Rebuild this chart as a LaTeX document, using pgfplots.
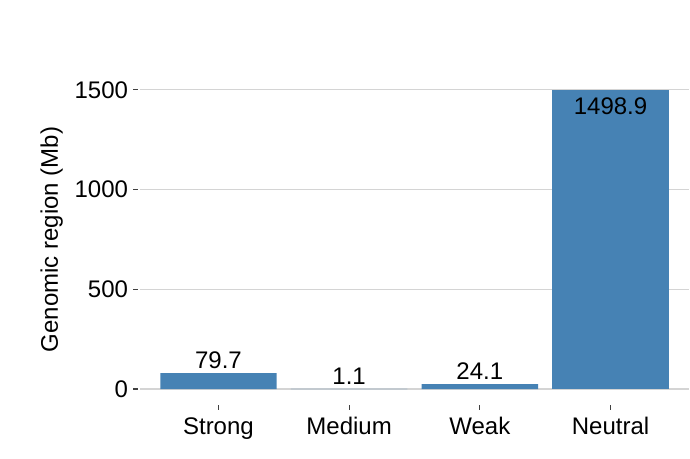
\documentclass[border=0pt]{standalone}
\usepackage{pgfplots}
\pgfplotsset{compat=1.18}
\usepackage{pgfplotstable}
\usepackage{fontspec}
\setmainfont{Liberation Sans}

\definecolor{barblue}{HTML}{4682B4}
\definecolor{gridgray}{HTML}{D4D4D4}

% small bars: label above the bar
\pgfplotstableread{
x  val
0  79.7
1  1.1
2  24.1
}\lowbars
% tall bar: label inside, under the top
\pgfplotstableread{
x  val
3  1498.9
}\tallbar

\begin{document}
\begin{tikzpicture}
\useasboundingbox (0,0) rectangle (517.5pt,344.25pt);
\begin{axis}[
    at={(105pt,41.25pt)}, anchor=south west,
    scale only axis,
    width=411.75pt, height=246.75pt,
    xmin=-0.6, xmax=3.6,
    ymin=-75, ymax=1574,
    xtick={0,1,2,3},
    xticklabels={Strong,Medium,Weak,Neutral},
    ytick={0,500,1000,1500},
    ymajorgrids=true,
    grid style={gridgray, line width=1pt},
    axis line style={draw=none},
    tick align=outside,
    xtick pos=left, ytick pos=left,
    major tick length=3.5pt,
    every tick/.style={draw=black!75, line width=0.8pt},
    x tick style={draw=black!75, line width=0.8pt, yshift=-1pt},
    y tick style={xshift=-1.5pt},
    font=\fontsize{18}{21}\selectfont,
    xticklabel style={yshift=-3pt},
    yticklabel style={xshift=-2pt},
    ylabel style={yshift=2pt},
    /pgf/number format/assume math mode=true,
    /pgf/number format/1000 sep={},
    ylabel={Genomic region (Mb)},
    nodes near coords,
    nodes near coords style={text=black, inner sep=3pt,
        /pgf/number format/fixed, /pgf/number format/precision=1,
        /pgf/number format/fixed zerofill, /pgf/number format/1000 sep={}},
    ]
    \addplot[ybar, bar width=0.89, bar shift=0pt, fill=barblue, draw=none,
        every node near coord/.append style={anchor=south}]
        table[x=x, y=val] {\lowbars};
    \addplot[ybar, bar width=0.89, bar shift=0pt, fill=barblue, draw=none,
        every node near coord/.append style={anchor=north, yshift=-3pt}]
        table[x=x, y=val] {\tallbar};
\end{axis}
\end{tikzpicture}
\end{document}
